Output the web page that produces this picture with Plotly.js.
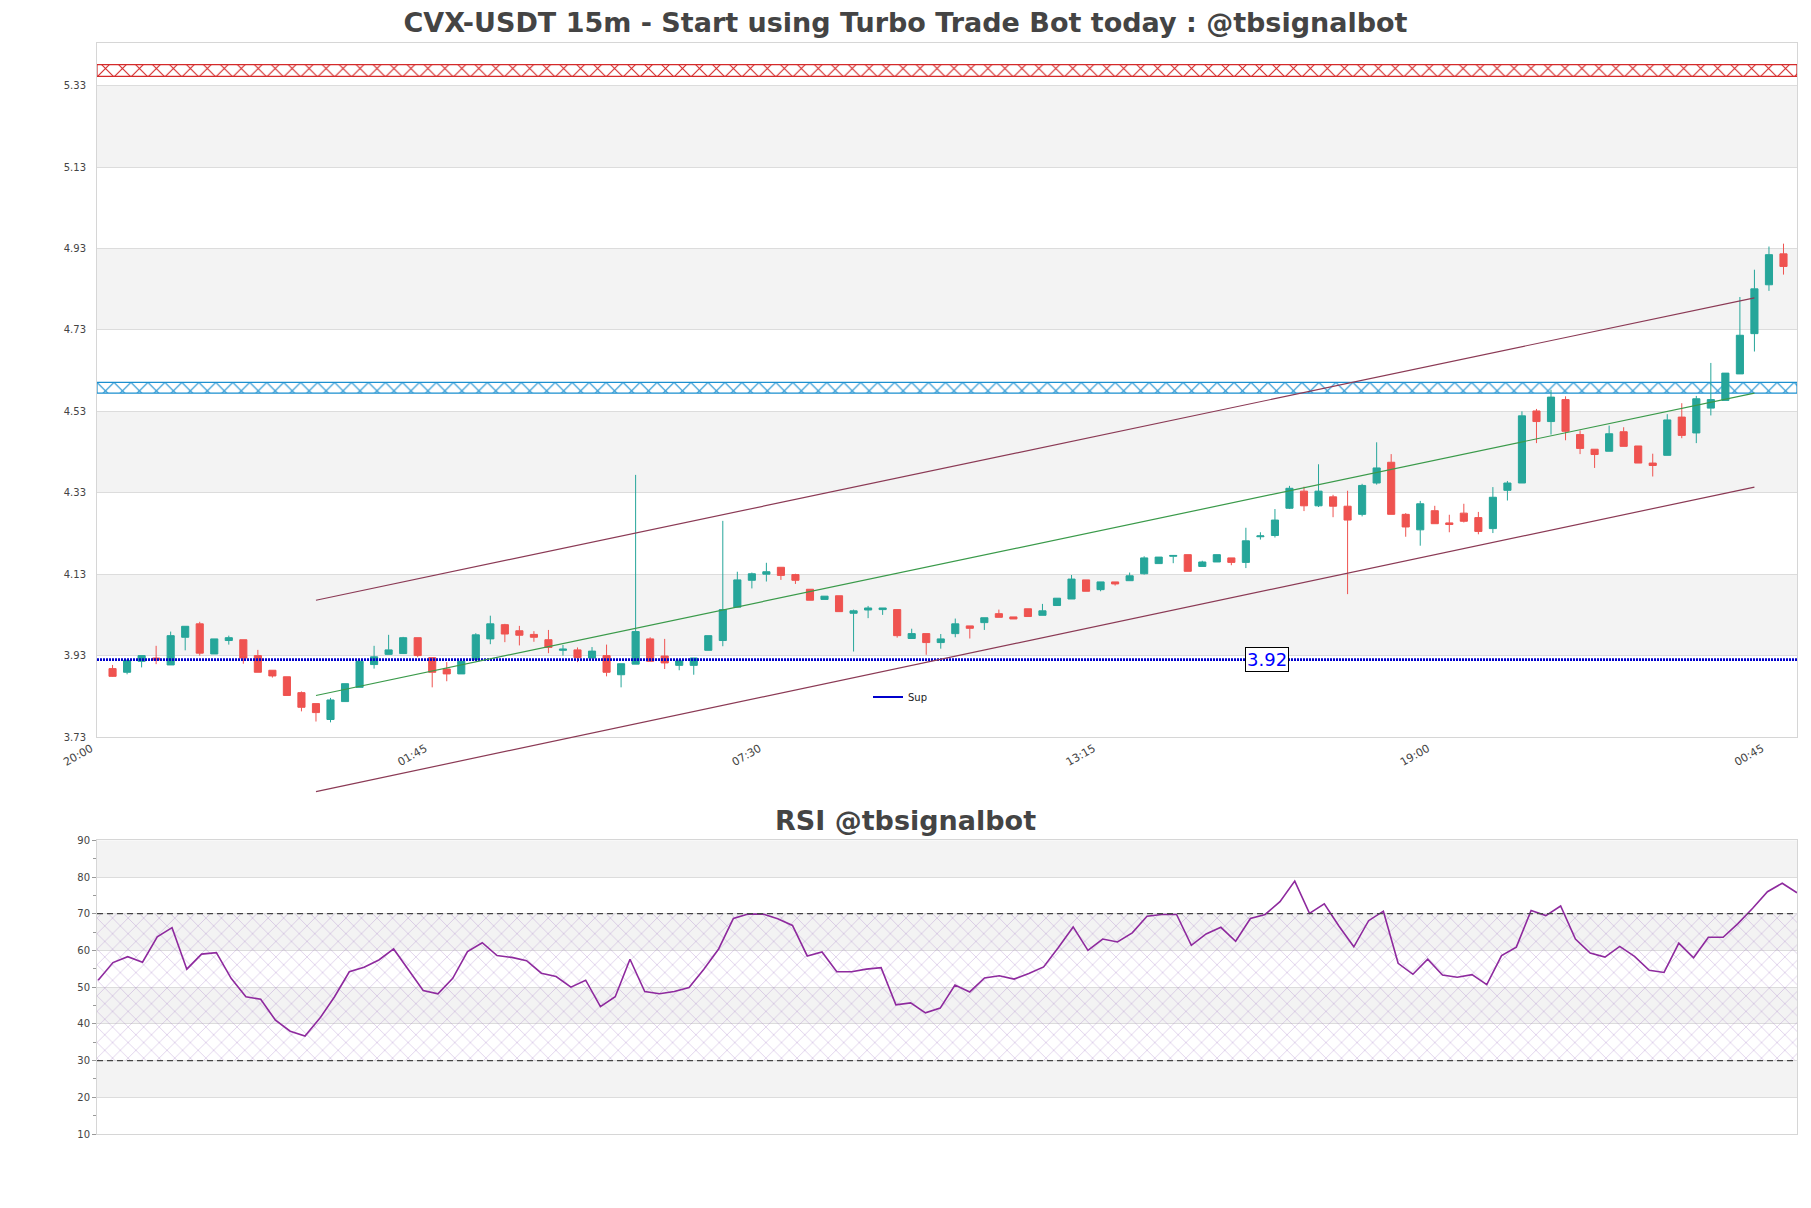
<!DOCTYPE html>
<html><head><meta charset="utf-8">
<script src="https://cdn.plot.ly/plotly-3.0.1.min.js"></script>
<style>html,body{margin:0;padding:0;background:#fff}#chart{width:1811px;height:1208px}</style>
</head><body><div id="chart"></div>
<script>
// ---------------- data ----------------
const times = [
'20:15','20:30','20:45','21:00','21:15','21:30','21:45','22:00','22:15','22:30','22:45','23:00','23:15','23:30','23:45',
'00:00','00:15','00:30','00:45','01:00','01:15','01:30','01:45','02:00','02:15','02:30','02:45','03:00','03:15','03:30','03:45',
'04:00','04:15','04:30','04:45','05:00','05:15','05:30','05:45','06:00','06:15','06:30','06:45','07:00','07:15','07:30','07:45',
'08:00','08:15','08:30','08:45','09:00','09:15','09:30','09:45','10:00','10:15','10:30','10:45','11:00','11:15','11:30','11:45',
'12:00','12:15','12:30','12:45','13:00','13:15','13:30','13:45','14:00','14:15','14:30','14:45','15:00','15:15','15:30','15:45',
'16:00','16:15','16:30','16:45','17:00','17:15','17:30','17:45','18:00','18:15','18:30','18:45','19:00','19:15','19:30','19:45',
'20:00','20:15','20:30','20:45','21:00','21:15','21:30','21:45','22:00','22:15','22:30','22:45','23:00','23:15','23:30','23:45',
'00:00','00:15','00:30','00:45','01:00'];
const open = [3.898,3.889,3.916,3.924,3.907,3.975,4.008,3.934,3.967,3.969,
3.930,3.894,3.878,3.839,3.812,3.773,3.817,3.852,3.908,3.933,
3.935,3.974,3.925,3.897,3.885,3.920,3.971,4.006,3.991,3.982,
3.969,3.943,3.944,3.924,3.930,3.883,3.909,3.971,3.929,3.906,
3.906,3.943,3.967,4.049,4.115,4.130,4.147,4.129,4.093,4.068,
4.077,4.034,4.042,4.043,4.043,3.972,3.984,3.962,3.984,4.003,
4.011,4.033,4.025,4.045,4.029,4.053,4.069,4.116,4.092,4.111,
4.114,4.131,4.156,4.174,4.178,4.149,4.160,4.170,4.159,4.222,
4.225,4.292,4.334,4.298,4.320,4.297,4.277,4.354,4.405,4.277,
4.239,4.286,4.256,4.280,4.269,4.242,4.336,4.354,4.531,4.505,
4.559,4.473,4.437,4.432,4.480,4.445,4.403,4.422,4.516,4.477,
4.538,4.557,4.622,4.721,4.841,4.917];
const high = [3.907,3.921,3.930,3.954,3.989,4.002,4.013,3.971,3.979,3.969,
3.944,3.894,3.878,3.842,3.812,3.826,3.861,3.916,3.954,3.981,
3.976,3.974,3.925,3.914,3.920,3.985,4.028,4.008,4.003,3.990,
3.993,3.956,3.950,3.951,3.957,3.910,4.374,3.975,3.971,3.921,
3.924,3.979,4.261,4.136,4.134,4.158,4.147,4.131,4.093,4.076,
4.077,4.043,4.052,4.047,4.043,3.996,3.984,3.983,4.021,4.003,
4.023,4.043,4.025,4.045,4.057,4.071,4.128,4.116,4.111,4.111,
4.134,4.174,4.172,4.176,4.178,4.163,4.178,4.170,4.244,4.233,
4.290,4.347,4.345,4.400,4.325,4.335,4.352,4.454,4.425,4.280,
4.310,4.298,4.276,4.303,4.283,4.344,4.359,4.530,4.536,4.583,
4.567,4.483,4.437,4.495,4.491,4.445,4.426,4.523,4.550,4.568,
4.649,4.624,4.811,4.878,4.935,4.942];
const low = [3.878,3.884,3.901,3.909,3.907,3.943,3.930,3.934,3.957,3.910,
3.889,3.876,3.832,3.793,3.768,3.766,3.817,3.852,3.898,3.933,
3.935,3.926,3.852,3.867,3.885,3.920,3.958,3.963,3.955,3.964,
3.936,3.930,3.914,3.924,3.879,3.852,3.909,3.916,3.897,3.894,
3.883,3.943,3.953,4.049,4.095,4.112,4.116,4.106,4.066,4.068,
4.038,3.940,4.022,4.030,3.974,3.972,3.932,3.947,3.975,3.972,
3.993,4.024,4.020,4.026,4.029,4.053,4.069,4.088,4.088,4.102,
4.114,4.129,4.156,4.157,4.137,4.149,4.160,4.152,4.145,4.215,
4.220,4.290,4.285,4.295,4.270,4.081,4.272,4.350,4.277,4.222,
4.200,4.254,4.233,4.257,4.228,4.231,4.311,4.354,4.452,4.473,
4.459,4.425,4.391,4.432,4.444,4.403,4.370,4.422,4.464,4.452,
4.520,4.557,4.622,4.677,4.826,4.866];
const close = [3.879,3.918,3.930,3.919,3.979,4.002,3.936,3.971,3.974,3.924,
3.889,3.880,3.832,3.803,3.790,3.821,3.861,3.916,3.927,3.944,
3.974,3.930,3.889,3.885,3.916,3.981,4.008,3.983,3.980,3.975,
3.950,3.946,3.925,3.941,3.889,3.910,3.989,3.916,3.912,3.917,
3.924,3.979,4.043,4.116,4.131,4.136,4.127,4.115,4.066,4.076,
4.038,4.040,4.047,4.047,3.979,3.984,3.962,3.971,4.008,3.997,
4.023,4.024,4.020,4.026,4.040,4.071,4.118,4.088,4.111,4.106,
4.126,4.170,4.172,4.176,4.137,4.160,4.178,4.159,4.212,4.224,
4.263,4.341,4.298,4.334,4.297,4.263,4.348,4.391,4.277,4.246,
4.303,4.254,4.252,4.260,4.235,4.319,4.354,4.519,4.505,4.565,
4.481,4.439,4.424,4.475,4.444,4.403,4.397,4.509,4.471,4.561,
4.559,4.624,4.717,4.831,4.915,4.886];
const rsi = [51.9,56.7,58.3,56.8,63.7,66.2,54.9,59.0,59.4,52.4,
47.4,46.7,41.0,38.0,36.7,41.5,47.4,54.2,55.4,57.4,
60.4,54.7,49.1,48.2,52.4,59.7,62.1,58.6,58.1,57.2,
53.8,52.9,50.0,51.9,44.7,47.4,57.6,48.8,48.2,48.8,
49.9,54.9,60.4,68.7,69.9,69.9,68.6,66.8,58.5,59.6,
54.2,54.2,54.9,55.3,45.2,45.7,43.0,44.3,50.6,48.7,
52.5,53.1,52.2,53.7,55.5,60.8,66.4,60.0,63.1,62.3,
64.8,69.3,69.8,69.8,61.4,64.5,66.3,62.5,68.7,69.8,
73.3,78.9,70.1,72.7,66.6,61.0,68.1,70.7,56.5,53.5,
57.6,53.3,52.7,53.4,50.7,58.6,60.9,70.9,69.5,72.1,
63.1,59.3,58.2,61.1,58.4,54.6,54.0,62.0,58.0,63.6,
63.6,67.3,71.5,76.0,78.3,75.7];
const tickLabels = ['20:00','01:45','07:30','13:15','19:00','00:45'];
const priceTicks = [3.73,3.93,4.13,4.33,4.53,4.73,4.93,5.13,5.33];
const rsiTicks = [10,20,30,40,50,60,70,80,90];
const rsiLevels = [30,70];
const supLevel = 3.92;
const resistBand = [5.353,5.382];
const zoneBand = [4.575,4.601];
const trendIdx = [14,113];          // candles where the channel starts / ends
const trendUpper = [4.066,4.809];
const trendMid = [3.832,4.575];
const trendLower = [3.596,4.344];

// ---------------- helpers ----------------
function toSlots(labels, start){
  const [sh,sm]=start.split(':').map(Number); const base=sh*60+sm;
  let day=0, prev=-1;
  return labels.map(l=>{const [h,m]=l.split(':').map(Number); const t=h*60+m; if(t<prev) day++; prev=t; return (day*1440+t-base)/15;});
}
const xPos = toSlots(times,'20:00');
const tickPos = toSlots(tickLabels,'20:00');
const trendX = trendIdx.map(i=>xPos[i]);

// layout geometry (figure pixels)
const W=1811,H=1208, L=97,R=14,T=43,B=74;
const plotH = H-T-B;
const mainBottomPx = 737, rsiTopPx = 840.3, extBottomPx = 800;
const mainDom=[(H-B-mainBottomPx)/plotH,1];
const rsiDom=[0,(H-B-rsiTopPx)/plotH];
const extDom=[(H-B-extBottomPx)/plotH,1];
const xRange=[-0.07,116.93];
const yRange=[3.73,5.435];
const upp=(yRange[1]-yRange[0])/(mainDom[1]-mainDom[0]);
const y3Range=[yRange[1]-upp*(extDom[1]-extDom[0]), yRange[1]];
const x2Range=[0.92,116];

const green='#26a69a', red='#ef5350', supColor='#0000cc';
const font='DejaVu Sans';

const traces=[];
// hatched bands (main)
function bandBar(band,color){
  return {type:'bar', x:[(xRange[0]+xRange[1])/2], y:[band[1]-band[0]], base:[band[0]],
    width:[xRange[1]-xRange[0]], xaxis:'x', yaxis:'y', showlegend:false, hoverinfo:'skip',
    marker:{color:'rgba(0,0,0,0)', line:{color:color,width:1.2},
      pattern:{shape:'x', fgcolor:color, bgcolor:'rgba(0,0,0,0)', size:12, solidity:0.18, fillmode:'replace'}}};
}
traces.push(bandBar(resistBand,'#d42a2a'));
traces.push(bandBar(zoneBand,'#1a8fcf'));

traces.push({type:'candlestick', x:xPos, open:open, high:high, low:low, close:close,
  xaxis:'x', yaxis:'y', showlegend:false, hoverinfo:'skip', whiskerwidth:0,
  increasing:{line:{color:green,width:1}, fillcolor:green},
  decreasing:{line:{color:red,width:1}, fillcolor:red}});

traces.push({type:'scatter', mode:'lines', x:xRange, y:[supLevel,supLevel], xaxis:'x', yaxis:'y',
  name:'Sup', legendgroup:'sup', line:{color:supColor, width:2.6, dash:'2px,1px'}, hoverinfo:'skip', showlegend:false});
// legend entry (solid sample, as in the reference)
traces.push({type:'scatter', mode:'lines', x:[null], y:[null], xaxis:'x', yaxis:'y',
  name:'Sup', legendgroup:'sup', line:{color:supColor, width:2.2}, hoverinfo:'skip', showlegend:true});

// channel lines on extended overlay axes
traces.push({type:'scatter', mode:'lines', x:trendX, y:trendUpper, xaxis:'x3', yaxis:'y3',
  line:{color:'#8b3a55',width:1.2}, showlegend:false, hoverinfo:'skip'});
traces.push({type:'scatter', mode:'lines', x:trendX, y:trendMid, xaxis:'x3', yaxis:'y3',
  line:{color:'#3a9a4a',width:1.2}, showlegend:false, hoverinfo:'skip'});
traces.push({type:'scatter', mode:'lines', x:trendX, y:trendLower, xaxis:'x3', yaxis:'y3',
  line:{color:'#8b3a55',width:1.2}, showlegend:false, hoverinfo:'skip'});

// RSI hatch between levels
traces.push({type:'bar', x:[(x2Range[0]+x2Range[1])/2], y:[rsiLevels[1]-rsiLevels[0]], base:[rsiLevels[0]],
  width:[x2Range[1]-x2Range[0]], xaxis:'x2', yaxis:'y2', showlegend:false, hoverinfo:'skip',
  marker:{color:'rgba(0,0,0,0)', line:{width:0},
    pattern:{shape:'x', fgcolor:'rgba(160,120,195,0.55)', bgcolor:'rgba(0,0,0,0)', size:11, solidity:0.1, fillmode:'replace'}}});
traces.push({type:'scatter', mode:'lines', x:xPos, y:rsi, xaxis:'x2', yaxis:'y2',
  line:{color:'#8e2a9e',width:1.6}, showlegend:false, hoverinfo:'skip'});

// background stripes
const shapes=[];
for(let i=0;i<priceTicks.length-1;i++){
  if(i%2===1) shapes.push({type:'rect', xref:'x domain', yref:'y', x0:0, x1:1, y0:priceTicks[i], y1:priceTicks[i+1],
    fillcolor:'#f3f3f3', line:{width:0}, layer:'below'});
}
for(let i=0;i<rsiTicks.length-1;i++){
  if(i%2===1) shapes.push({type:'rect', xref:'x2 domain', yref:'y2', x0:0, x1:1, y0:rsiTicks[i], y1:rsiTicks[i+1],
    fillcolor:'#f3f3f3', line:{width:0}, layer:'below'});
}
rsiLevels.forEach(v=>shapes.push({type:'line', xref:'x2 domain', yref:'y2', x0:0, x1:1, y0:v, y1:v,
  line:{color:'#444', width:1.2, dash:'6px,4px'}}));

const frame={showline:true, mirror:true, linecolor:'#d6d6d6', linewidth:1, zeroline:false};

const layout={
  width:W, height:H, paper_bgcolor:'#fff', plot_bgcolor:'rgba(0,0,0,0)',
  margin:{l:L,r:R,t:T,b:B,pad:0}, barmode:'overlay', showlegend:true,
  font:{family:font, color:'#444'},
  title:{text:'<b>CVX-USDT 15m - Start using Turbo Trade Bot today : @tbsignalbot</b>',
    x:0.5, xref:'container', xanchor:'center', y:1-23/H, yref:'container', yanchor:'middle',
    font:{family:font, size:27, color:'#444'}},
  xaxis:Object.assign({domain:[0,1], anchor:'y', range:xRange, tickmode:'array', tickvals:tickPos, ticktext:tickLabels,
    tickangle:-30, ticklabelshift:-7, tickfont:{size:11,color:'#444'}, showgrid:false, ticks:'', rangeslider:{visible:false}},frame),
  yaxis:Object.assign({domain:mainDom, anchor:'x', range:yRange, tickmode:'array', tickvals:priceTicks,
    ticktext:priceTicks.map(v=>v.toFixed(2)), tickfont:{size:10,color:'#444'}, showgrid:true, gridcolor:'#dcdcdc',
    gridwidth:1, ticks:'', ticklabelstandoff:8},frame),
  xaxis2:Object.assign({domain:[0,1], anchor:'y2', range:x2Range, showticklabels:false, showgrid:false, ticks:''},frame),
  yaxis2:Object.assign({domain:rsiDom, anchor:'x2', range:[rsiTicks[0],rsiTicks[rsiTicks.length-1]], tickmode:'array',
    tickvals:rsiTicks, tickfont:{size:10,color:'#444'}, showgrid:true, gridcolor:'#dcdcdc', ticks:'outside', ticklen:4,
    tickcolor:'#999', minor:{tickmode:'linear', tick0:5, dtick:10, ticks:'outside', ticklen:3, tickcolor:'#999', showgrid:false}},frame),
  xaxis3:{domain:[0,1], anchor:'y3', range:xRange, visible:false},
  yaxis3:{domain:extDom, anchor:'x3', range:y3Range, visible:false},
  legend:{x:(868-L)/(W-L-R), y:(H-B-697)/plotH, xanchor:'left', yanchor:'middle', font:{size:10,color:'#222'},
    bgcolor:'rgba(0,0,0,0)', borderwidth:0, itemwidth:30},
  shapes:shapes,
  annotations:[
    {text:'<b>RSI @tbsignalbot</b>', xref:'paper', yref:'paper', x:(W/2-L)/(W-L-R), y:(H-B-820)/plotH,
      xanchor:'center', yanchor:'middle', showarrow:false, font:{family:font,size:27,color:'#444'}},
    {text:supLevel.toFixed(2), xref:'x domain', yref:'y', x:(1267-L)/(W-L-R), y:supLevel, xanchor:'center', yanchor:'middle',
      showarrow:false, font:{family:font,size:18,color:'#0000ff'}, bgcolor:'#fff', bordercolor:'#000', borderwidth:1, borderpad:1}
  ]
};
Plotly.newPlot('chart', traces, layout, {displayModeBar:false, staticPlot:true});
</script>
</body></html>
